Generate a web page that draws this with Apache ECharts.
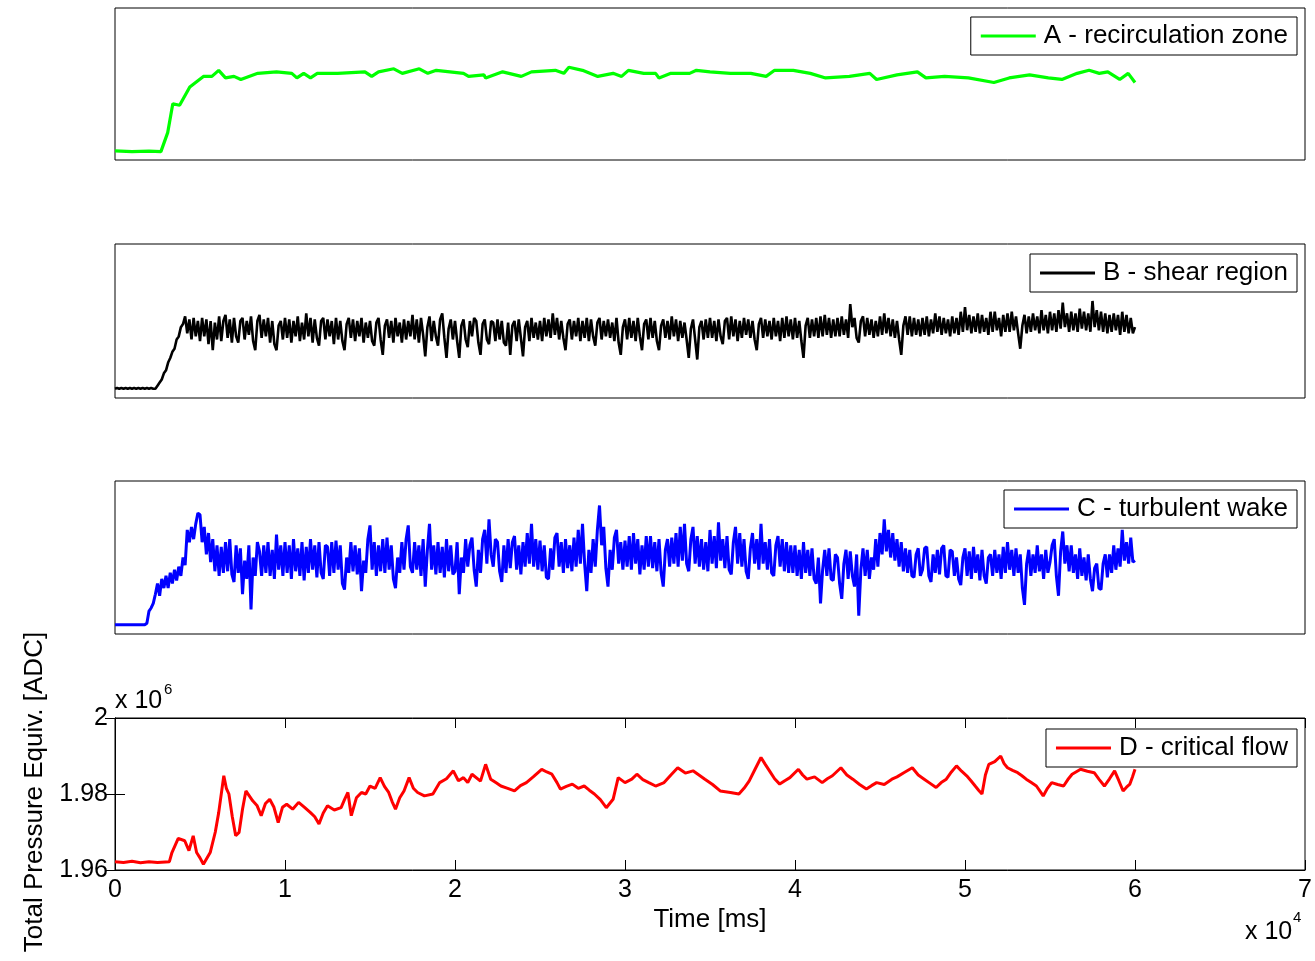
<!DOCTYPE html>
<html><head><meta charset="utf-8">
<script src="https://cdn.jsdelivr.net/npm/echarts@6/dist/echarts.min.js"></script>
<style>html,body{margin:0;padding:0;background:#fff}#c{width:1315px;height:961px}</style>
</head><body><div id="c"></div>
<script>
// ---------- data ----------
const xTicks = [0, 1, 2, 3, 4, 5, 6, 7];           // x 10^4 ms
const yTicksD = [1.96, 1.98, 2.00];                 // x 10^6 ADC
const seriesNames = ['A - recirculation zone', 'B - shear region', 'C - turbulent wake', 'D - critical flow'];
const seriesColors = ['#00ff00', '#000000', '#0000ff', '#ff0000'];

// A (relative units, 0-100 of panel range)
const timesA = [0,0.1,0.2,0.27,0.31,0.34,0.38,0.44,0.52,0.57,0.61,0.65,0.7,0.74,0.84,0.95,1.04,1.07,1.11,1.15,1.19,1.31,1.47,1.51,1.55,1.64,1.69,1.79,1.84,1.89,2.05,2.08,2.17,2.18,2.28,2.39,2.45,2.59,2.64,2.67,2.75,2.84,2.93,2.98,3.02,3.11,3.18,3.2,3.27,3.38,3.42,3.5,3.62,3.74,3.83,3.88,3.99,4.09,4.18,4.32,4.44,4.48,4.6,4.72,4.77,4.88,5.02,5.17,5.26,5.38,5.49,5.57,5.66,5.73,5.79,5.84,5.91,5.96,6.0];
const valuesA = [6,5.5,5.8,5.5,18,37,36,48,55,55,59,54,55,53,57,58,57,54,57,54,57,57,58,55,58,60,57,60,57,59,57,55,56,54,58,55,58,59,57,61,59,55,57,55,59,57,57,54,57,57,59,58,57,57,55,59,59,57,54,55,57,53,56,58,54,55,54,51,54,56,54,53,57,59,57,58,53,57,51];

// B and C sampled every 0.0125 (x 10^4 ms) from 0 to 6 (one row = 0.25)
const sampleStepBC = 0.0125;
const valuesB = [
6,6.5,6,6.5,6,6.5,6,6.5,6,6.5,6,6.5,6,6.5,6,6.5,6,6.5,6,6,
8,10,12,16,18,23,26,30,32,38,40,46,48,53,42,51,38,52,40,50,
37,52,40,51,35,50,31,49,38,53,37,50,54,39,51,36,52,40,36,50,
52,38,50,41,53,37,31,50,54,39,51,40,52,36,50,35,31,47,50,38,
52,39,51,36,50,40,53,37,49,38,55,40,52,36,51,39,34,50,52,38,
51,40,50,35,52,38,50,37,31,48,52,39,51,37,50,40,52,36,49,39,
50,37,34,49,52,38,28,47,51,39,50,36,52,40,49,36,51,38,50,40,
54,38,51,36,52,41,27,46,53,37,50,40,34,51,55,39,26,45,51,38,
50,37,26,47,51,38,33,50,40,52,50,36,28,48,51,38,35,50,49,37,
51,38,50,36,34,49,28,47,50,37,51,39,27,46,50,37,52,39,49,38,
50,37,52,40,51,39,55,41,52,38,50,39,31,48,51,38,50,40,52,37,
50,39,52,37,51,40,34,49,52,38,50,40,51,39,49,37,52,36,28,46,
51,38,52,39,50,37,52,40,31,48,51,38,52,39,50,37,31,47,51,39,
50,38,53,40,51,37,50,39,49,38,26,45,51,38,25,46,50,38,51,39,
52,39,50,37,51,40,35,50,52,38,53,40,51,37,50,39,52,41,51,39,
50,38,31,48,52,39,51,40,50,38,52,40,50,37,52,39,53,40,51,38,
52,39,50,37,26,47,52,39,51,40,52,39,53,40,54,41,52,39,51,40,
52,40,53,41,51,39,61,46,52,39,36,50,53,40,52,41,51,39,50,40,
53,41,55,42,52,40,51,39,50,38,28,47,53,41,53,40,52,41,51,40,
52,41,53,40,51,42,55,43,53,41,52,42,51,40,53,42,52,41,56,43,
59,44,54,42,53,43,55,42,54,43,52,41,56,43,56,44,52,40,54,43,
55,43,56,44,53,42,32,47,54,42,53,43,55,44,53,42,57,44,54,42,
56,44,55,43,57,45,62,46,55,43,56,44,55,43,58,45,56,44,55,43,
63,46,57,44,56,43,55,42,54,43,55,44,54,41,56,43,54,42,52,42,
46];
const valuesC = [
6,6,6,6,6,6,6,6,6,6,6,6,6,6,6,7,15,17,20,26,
33,25,36,30,38,30,40,33,42,35,44,38,50,45,68,60,70,62,72,79,
78,60,70,52,66,47,62,41,58,38,57,40,60,41,62,39,34,58,40,56,
26,48,36,58,16,50,38,60,54,38,58,40,60,38,55,36,65,42,58,38,
60,40,58,36,62,41,56,38,60,35,57,40,62,42,58,37,60,40,36,58,
57,38,60,40,61,42,58,33,29,50,40,60,41,58,39,56,28,48,40,62,
71,42,60,38,58,41,62,40,63,42,58,36,30,50,40,60,42,62,71,44,
40,60,42,58,38,62,31,55,72,42,58,39,60,40,57,37,62,41,58,39,
41,60,26,50,40,62,44,58,63,42,31,55,40,62,68,46,75,52,44,62,
60,41,34,58,40,62,43,60,64,42,58,39,60,44,66,46,72,44,62,42,
61,41,58,37,36,56,42,63,66,44,60,40,62,43,58,41,63,44,68,46,
72,46,28,55,40,62,44,68,84,58,70,43,31,55,42,63,68,46,60,42,
61,44,64,42,66,46,62,39,58,42,64,44,64,43,60,41,62,40,31,55,
62,44,63,46,66,44,70,48,72,46,41,62,70,46,64,44,62,42,60,41,
68,46,64,43,73,48,62,43,64,42,39,60,70,46,66,44,62,41,36,56,
66,46,62,42,72,46,60,42,62,40,38,58,64,44,62,41,60,40,58,40,
58,38,55,36,60,40,55,38,56,36,33,50,20,42,55,38,56,36,35,52,
50,33,23,46,55,36,54,38,31,52,12,42,56,38,55,36,50,42,62,44,
66,52,75,54,68,50,66,48,62,44,60,41,56,40,55,38,37,52,56,38,
42,56,57,38,34,52,40,55,39,56,58,38,37,55,54,38,50,36,32,50,
56,38,54,36,57,40,52,35,55,38,33,50,52,38,55,40,52,36,57,40,
60,42,55,38,56,40,52,30,19,46,55,38,52,40,58,41,52,36,55,40,
47,58,62,38,25,54,67,46,58,41,58,40,52,36,56,38,50,35,52,36,
28,43,46,30,29,46,52,37,52,40,58,42,56,44,68,48,60,46,63,47,
48];

// D (x 10^6 ADC)
const timesD = [0,0.05,0.1,0.15,0.2,0.25,0.32,0.335,0.372,0.41,0.435,0.46,0.48,0.5,0.52,0.56,0.59,0.61,0.64,0.655,0.67,0.69,0.71,0.73,0.75,0.77,0.79,0.81,0.835,0.86,0.885,0.91,0.935,0.96,0.985,1.01,1.045,1.08,1.115,1.15,1.175,1.2,1.225,1.25,1.29,1.33,1.35,1.37,1.39,1.42,1.45,1.475,1.5,1.53,1.56,1.585,1.61,1.63,1.65,1.675,1.7,1.73,1.755,1.78,1.82,1.87,1.91,1.95,1.99,2.02,2.05,2.075,2.1,2.15,2.18,2.21,2.24,2.27,2.31,2.35,2.385,2.42,2.46,2.51,2.54,2.57,2.6,2.62,2.655,2.69,2.725,2.76,2.79,2.82,2.855,2.89,2.91,2.93,2.96,3.0,3.04,3.07,3.105,3.14,3.18,3.23,3.27,3.31,3.355,3.4,3.435,3.47,3.515,3.56,3.62,3.67,3.7,3.73,3.765,3.8,3.825,3.85,3.88,3.91,3.94,3.97,4.02,4.045,4.07,4.115,4.16,4.19,4.22,4.27,4.305,4.34,4.38,4.42,4.45,4.48,4.525,4.57,4.6,4.64,4.69,4.725,4.76,4.795,4.83,4.86,4.89,4.92,4.95,4.98,5.01,5.035,5.06,5.08,5.1,5.12,5.14,5.175,5.21,5.23,5.25,5.28,5.31,5.335,5.36,5.39,5.42,5.44,5.46,5.485,5.51,5.545,5.58,5.605,5.63,5.68,5.72,5.76,5.79,5.82,5.85,5.88,5.905,5.93,5.95,5.97,5.985,6.0];
const valuesD = [1.9622,1.9620,1.9623,1.9619,1.9622,1.9620,1.9622,1.9646,1.9683,1.9677,1.9651,1.9690,1.9646,1.9632,1.9615,1.9646,1.9700,1.9751,1.9848,1.9815,1.9800,1.9740,1.9690,1.9699,1.9760,1.9808,1.9795,1.9782,1.9770,1.9743,1.9775,1.9786,1.9765,1.9725,1.9765,1.9773,1.9760,1.9778,1.9765,1.9751,1.9740,1.9721,1.9750,1.9769,1.9758,1.9764,1.9785,1.9804,1.9743,1.9790,1.9804,1.9800,1.9821,1.9815,1.9843,1.9820,1.9804,1.9780,1.9760,1.9790,1.9808,1.9843,1.9815,1.9804,1.9795,1.9800,1.9830,1.9840,1.9861,1.9835,1.9843,1.9830,1.9852,1.9834,1.9878,1.9839,1.9830,1.9821,1.9815,1.9808,1.9822,1.9830,1.9845,1.9865,1.9858,1.9852,1.9830,1.9813,1.9820,1.9826,1.9815,1.9821,1.9810,1.9800,1.9785,1.9764,1.9775,1.9786,1.9843,1.9830,1.9839,1.9852,1.9838,1.9830,1.9821,1.9830,1.9850,1.9869,1.9855,1.9861,1.9850,1.9839,1.9825,1.9808,1.9804,1.9800,1.9815,1.9834,1.9865,1.9896,1.9878,1.9861,1.9840,1.9826,1.9835,1.9843,1.9865,1.9850,1.9839,1.9845,1.9830,1.9840,1.9848,1.9869,1.9850,1.9839,1.9825,1.9813,1.9822,1.9830,1.9825,1.9839,1.9845,1.9856,1.9869,1.9850,1.9839,1.9828,1.9817,1.9830,1.9839,1.9858,1.9874,1.9860,1.9848,1.9835,1.9821,1.9810,1.9800,1.9850,1.9878,1.9885,1.9900,1.9880,1.9869,1.9862,1.9856,1.9848,1.9839,1.9830,1.9821,1.9808,1.9795,1.9815,1.9830,1.9825,1.9821,1.9838,1.9852,1.9865,1.9860,1.9856,1.9838,1.9821,1.9840,1.9861,1.9835,1.9808,1.9818,1.9826,1.9845,1.9865];

// ---------- layout ----------
const FONT = "'Liberation Sans', Arial, sans-serif";
const panels = [
  {top: 8,   height: 152, legendTop: 17},
  {top: 244, height: 154, legendTop: 254},
  {top: 481, height: 153, legendTop: 490},
  {top: 718, height: 152, legendTop: 729}
];
const seriesData = [
  timesA.map((t, i) => [t, valuesA[i]]),
  valuesB.map((v, i) => [i * sampleStepBC, v]),
  valuesC.map((v, i) => [i * sampleStepBC, v]),
  timesD.map((t, i) => [t, valuesD[i]])
];
const lineWidths = [3.2, 2.6, 3, 3];

const grid = panels.map(p => ({
  left: 115, top: p.top, width: 1190, height: p.height,
  show: true, borderColor: '#000', borderWidth: 1, backgroundColor: '#fff'
}));

const xAxis = [];
const yAxis = [];
for (let i = 0; i < 3; i++) {
  xAxis.push({type: 'value', gridIndex: i, min: xTicks[0], max: xTicks[xTicks.length - 1], show: false});
  yAxis.push({type: 'value', gridIndex: i, min: 0, max: 100, show: false});
}
const tickCommon = {
  axisLine: {show: true, lineStyle: {color: '#000', width: 1}},
  axisTick: {show: true, inside: true, length: 10, lineStyle: {color: '#000', width: 1}},
  splitLine: {show: false}
};
xAxis.push(Object.assign({
  type: 'value', gridIndex: 3, position: 'bottom',
  min: xTicks[0], max: xTicks[xTicks.length - 1], interval: 1,
  axisLabel: {show: true, margin: 8, fontSize: 25, fontFamily: FONT, color: '#000',
    formatter: v => String(v)},
  name: 'Time [ms]', nameLocation: 'middle', nameGap: 37,
  nameTextStyle: {fontSize: 26, fontFamily: FONT, color: '#000'}
}, tickCommon));
xAxis.push(Object.assign({
  type: 'value', gridIndex: 3, position: 'top',
  min: xTicks[0], max: xTicks[xTicks.length - 1], interval: 1,
  axisLabel: {show: false}
}, tickCommon));
yAxis.push(Object.assign({
  type: 'value', gridIndex: 3, position: 'left',
  min: yTicksD[0], max: yTicksD[yTicksD.length - 1], interval: 0.02,
  axisLabel: {show: true, margin: 7, fontSize: 25, fontFamily: FONT, color: '#000',
    formatter: v => String(parseFloat(v.toFixed(2)))}
}, tickCommon));
yAxis.push(Object.assign({
  type: 'value', gridIndex: 3, position: 'right',
  min: yTicksD[0], max: yTicksD[yTicksD.length - 1], interval: 0.02,
  axisLabel: {show: false}
}, tickCommon));

const legend = panels.map((p, i) => ({
  data: [seriesNames[i]], right: 18, top: p.legendTop, orient: 'horizontal',
  backgroundColor: '#fff', borderColor: '#000', borderWidth: 1, borderRadius: 0,
  padding: [6, 9, 6, 10], itemWidth: 55, itemHeight: 3, icon: 'rect',
  selectedMode: false,
  textStyle: {fontSize: 26, fontFamily: FONT, color: '#000', padding: [0, 0, 0, 3]}
}));

const series = seriesData.map((d, i) => ({
  name: seriesNames[i], type: 'line', xAxisIndex: i, yAxisIndex: i,
  data: d, symbol: 'none', showSymbol: false, clip: true,
  lineStyle: {color: seriesColors[i], width: lineWidths[i]},
  itemStyle: {color: seriesColors[i]}
}));

const graphic = [
  {type: 'text', x: 35, y: 792, rotation: Math.PI / 2,
   style: {text: 'Total Pressure Equiv. [ADC]', font: "26px " + FONT, fill: '#000',
     textAlign: 'center', textVerticalAlign: 'middle'}},
  {type: 'text', x: 115, y: 701,
   style: {text: 'x 10', font: "25px " + FONT, fill: '#000', textAlign: 'left', textVerticalAlign: 'middle'}},
  {type: 'text', x: 164, y: 690,
   style: {text: '6', font: "15px " + FONT, fill: '#000', textAlign: 'left', textVerticalAlign: 'middle'}},
  {type: 'text', x: 1245, y: 932,
   style: {text: 'x 10', font: "25px " + FONT, fill: '#000', textAlign: 'left', textVerticalAlign: 'middle'}},
  {type: 'text', x: 1293, y: 918,
   style: {text: '4', font: "15px " + FONT, fill: '#000', textAlign: 'left', textVerticalAlign: 'middle'}}
];

const chart = echarts.init(document.getElementById('c'), null, {renderer: 'canvas'});
chart.setOption({
  animation: false,
  backgroundColor: '#fff',
  grid, xAxis, yAxis, legend, series, graphic
});
</script></body></html>
